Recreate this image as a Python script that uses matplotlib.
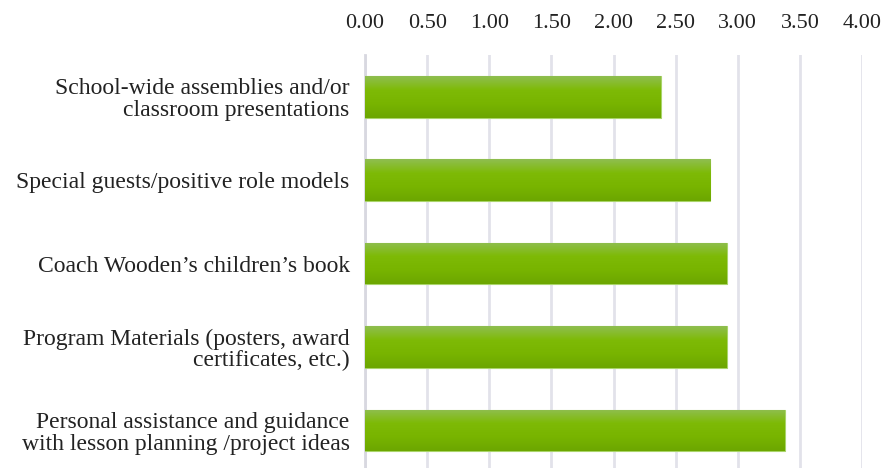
import matplotlib
matplotlib.use("Agg")
import matplotlib.pyplot as plt
import numpy as np
from matplotlib.colors import LinearSegmentedColormap

categories = [
    "School-wide assemblies and/or\nclassroom presentations",
    "Special guests/positive role models",
    "Coach Wooden\u2019s children\u2019s book",
    "Program Materials (posters, award\ncertificates, etc.)",
    "Personal assistance and guidance\nwith lesson planning /project ideas",
]
values = [2.38, 2.78, 2.91, 2.91, 3.38]
xticks = [0.0, 0.5, 1.0, 1.5, 2.0, 2.5, 3.0, 3.5, 4.0]

plt.rcParams['font.family'] = ['Liberation Serif', 'DejaVu Serif']

fig = plt.figure(figsize=(8.96, 4.68), dpi=100)
ax = fig.add_axes([365/896, 0.0, (862-365)/896, (468-55)/468])

ypos = np.arange(len(categories))
bars = ax.barh(ypos, values, height=0.5, color="#7ab800", edgecolor="#a9d46a", linewidth=0.8, zorder=3)

cmap = LinearSegmentedColormap.from_list("g", ["#8fbe50", "#7eba06", "#78b400", "#6ca600"])
grad = np.linspace(0, 1, 64).reshape(-1, 1)
for b in bars:
    x0, y0 = b.get_x(), b.get_y()
    w, h = b.get_width(), b.get_height()
    im = ax.imshow(grad, cmap=cmap, aspect="auto", extent=[x0, x0 + w, y0 + h, y0],
                   zorder=3.5, interpolation="bilinear")
    im.set_clip_path(b)

ax.set_xlim(0, 4.0)
ax.set_ylim(4.45, -0.5)
ax.set_xticks(xticks)
ax.set_xticklabels([f"{t:.2f}" for t in xticks])
ax.xaxis.tick_top()
ax.set_yticks(ypos)
ax.set_yticklabels(categories, linespacing=1.05)
ax.tick_params(axis="x", length=0, pad=16, labelsize=16, colors="#222222")
ax.tick_params(axis="y", length=0, pad=11, labelsize=17, colors="#222222")
for lbl in ax.get_yticklabels():
    lbl.set_horizontalalignment("right")
ax.grid(axis="x", color="#e2e2ea", linewidth=2, zorder=0)
ax.set_axisbelow(True)
for s in ["top", "right", "bottom"]:
    ax.spines[s].set_visible(False)
ax.spines["left"].set_color("#d8d8e0")
ax.spines["left"].set_linewidth(2)

fig.savefig("out.png", dpi=100)
